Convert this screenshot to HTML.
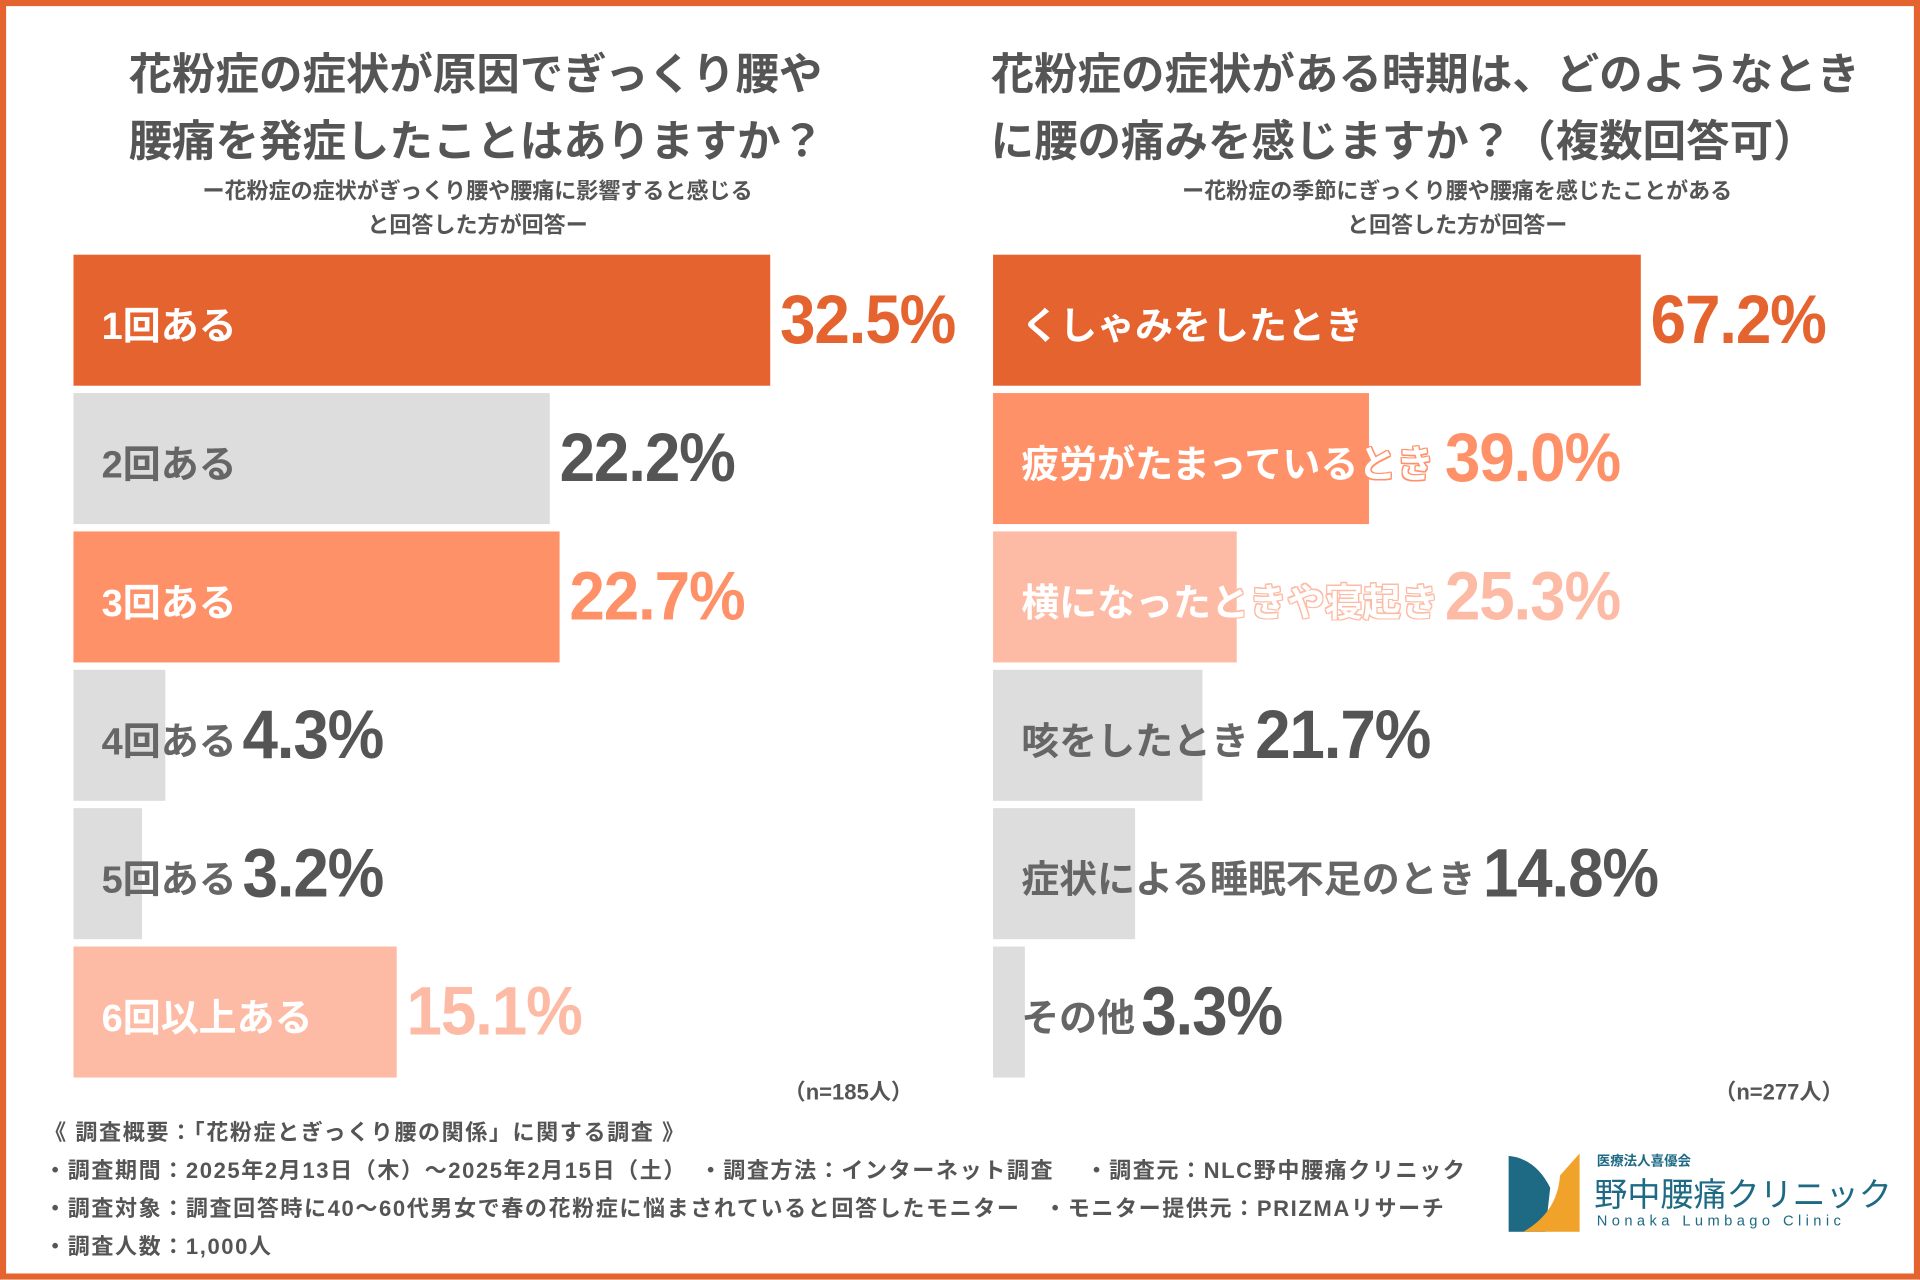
<!DOCTYPE html>
<html><head><meta charset="utf-8">
<style>
html,body{margin:0;padding:0;background:#fff;}
body{width:1920px;height:1280px;overflow:hidden;font-family:"Liberation Sans","Noto Sans CJK JP",sans-serif;}
#stage{position:absolute;left:0;top:0;width:1568px;height:1045px;transform:scale(1.22449);transform-origin:0 0;}
.frame{position:absolute;left:0;top:0;width:1568px;height:1045px;box-sizing:border-box;border:5px solid #E5632F;}
.t{position:absolute;font-weight:bold;color:#555;white-space:nowrap;}
.title{font-size:35.5px;line-height:55px;}
.sub{font-size:18px;line-height:28px;text-align:center;}
.bar{position:absolute;}
.lbl{position:absolute;font-weight:bold;font-size:31px;white-space:nowrap;}
.val{position:absolute;font-weight:bold;font-size:56px;white-space:nowrap;transform:scaleX(0.93);transform-origin:0 50%;letter-spacing:-1px;}
.foot{font-size:18px;line-height:31px;color:#555;letter-spacing:1.3px;}
</style></head><body>
<div id="stage">
<div class="frame"></div>

<div class="t title" style="left:105px;top:34px;">花粉症の症状が原因でぎっくり腰や<br>腰痛を発症したことはありますか？</div>
<div class="t sub" style="left:140px;top:142px;width:500px;">ー花粉症の症状がぎっくり腰や腰痛に影響すると感じる<br>と回答した方が回答ー</div>

<div class="t title" style="left:809px;top:34px;">花粉症の症状がある時期は、どのようなとき<br>に腰の痛みを感じますか？（複数回答可）</div>
<div class="t sub" style="left:930px;top:142px;width:520px;">ー花粉症の季節にぎっくり腰や腰痛を感じたことがある<br>と回答した方が回答ー</div>

<div id="left"></div>
<div id="right"></div>

<div class="t" style="left:640px;top:878px;font-size:18px;">（n=185人）</div>
<div class="t" style="left:1400px;top:878px;font-size:18px;">（n=277人）</div>

<div class="t foot" style="left:36px;top:910px;">《 調査概要：「花粉症とぎっくり腰の関係」に関する調査 》<br>・調査期間：2025年2月13日（木）〜2025年2月15日（土）　・調査方法：インターネット調査　 ・調査元：NLC野中腰痛クリニック<br>・調査対象：調査回答時に40〜60代男女で春の花粉症に悩まされていると回答したモニター　・モニター提供元：PRIZMAリサーチ<br>・調査人数：1,000人</div>

<div style="position:absolute;left:1232px;top:940px;width:320px;height:66px;">
<svg width="60" height="66" style="position:absolute;left:0;top:0">
<path d="M0 4 Q22 6 34 30 L30 66 L0 66 Z" fill="#1E6A84"/>
<path d="M12 66 Q40 50 42 20 L58 2 L58 66 Z" fill="#F0A22A"/>
</svg>
<div class="t" style="left:72px;top:0;font-size:11px;color:#1E6A84;">医療法人喜優会</div>
<div class="t" style="left:70px;top:14px;font-size:27px;font-weight:normal;color:#1E6A84;">野中腰痛クリニック</div>
<div class="t" style="left:72px;top:50px;font-size:12px;font-weight:normal;letter-spacing:3.6px;color:#1E6A84;">Nonaka Lumbago Clinic</div>
</div>
</div>

<script>
const leftCats = ["1回ある","2回ある","3回ある","4回ある","5回ある","6回以上ある"];
const leftVals = [32.5,22.2,22.7,4.3,3.2,15.1];
const leftLabels = ["32.5%","22.2%","22.7%","4.3%","3.2%","15.1%"];
const rightCats = ["くしゃみをしたとき","疲労がたまっているとき","横になったときや寝起き","咳をしたとき","症状による睡眠不足のとき","その他"];
const rightVals = [67.2,39.0,25.3,21.7,14.8,3.3];
const rightLabels = ["67.2%","39.0%","25.3%","21.7%","14.8%","3.3%"];

const OR="#E5632F", MID="#FF9169", LIGHT="#FDBBA5", GRAY="#DDDDDD";
const leftColors=[OR,GRAY,MID,GRAY,GRAY,LIGHT];
const rightColors=[OR,MID,LIGHT,GRAY,GRAY,GRAY];

function xScale(x0,pxPer){return v=>x0+v*pxPer;}
function yBand(i){return 208+i*113;}

function textWidth(s){const c=document.createElement('canvas').getContext('2d');c.font='bold 31px "Liberation Sans","Noto Sans CJK JP",sans-serif';return c.measureText(s).width;}

function draw(container,cats,vals,labels,colors,x0,pxPer,prefix){
  const xs=xScale(x0,pxPer);
  const root=document.getElementById(container);
  cats.forEach((c,i)=>{
    const y=yBand(i),w=xs(vals[i])-x0,col=colors[i],gray=col===GRAY;
    const b=document.createElement('div');b.className='bar';
    b.style.cssText=`left:${x0}px;top:${y}px;width:${w}px;height:107px;background:${col};`;
    
    
    root.appendChild(b);
    const l=document.createElement('div');l.className='lbl';l.textContent=c;
    const tc=gray?'#666':'#fff';
    let sh='';
    if(!gray){const k=col;sh=`text-shadow:1px 0 ${k},-1px 0 ${k},0 1px ${k},0 -1px ${k},1px 1px ${k},-1px -1px ${k},1px -1px ${k},-1px 1px ${k};`;}
    l.style.cssText=`left:${x0+23}px;top:${y+33}px;color:${tc};${sh}`;
    
    
    root.appendChild(l);
    const lw=textWidth(c);
    const barEnd=xs(vals[i]), labEnd=x0+23+lw;
    const vx=barEnd>=labEnd ? barEnd+8 : labEnd+5;
    const v=document.createElement('div');v.className='val';v.textContent=labels[i];
    v.style.cssText+=`left:${vx}px;top:${y+20}px;color:${gray?'#555':col};`;
    
    
    root.appendChild(v);
  });
}
draw('left',leftCats,leftVals,leftLabels,leftColors,60,17.5,'left');
draw('right',rightCats,rightVals,rightLabels,rightColors,811,7.87,'right');
</script>
</body></html>
